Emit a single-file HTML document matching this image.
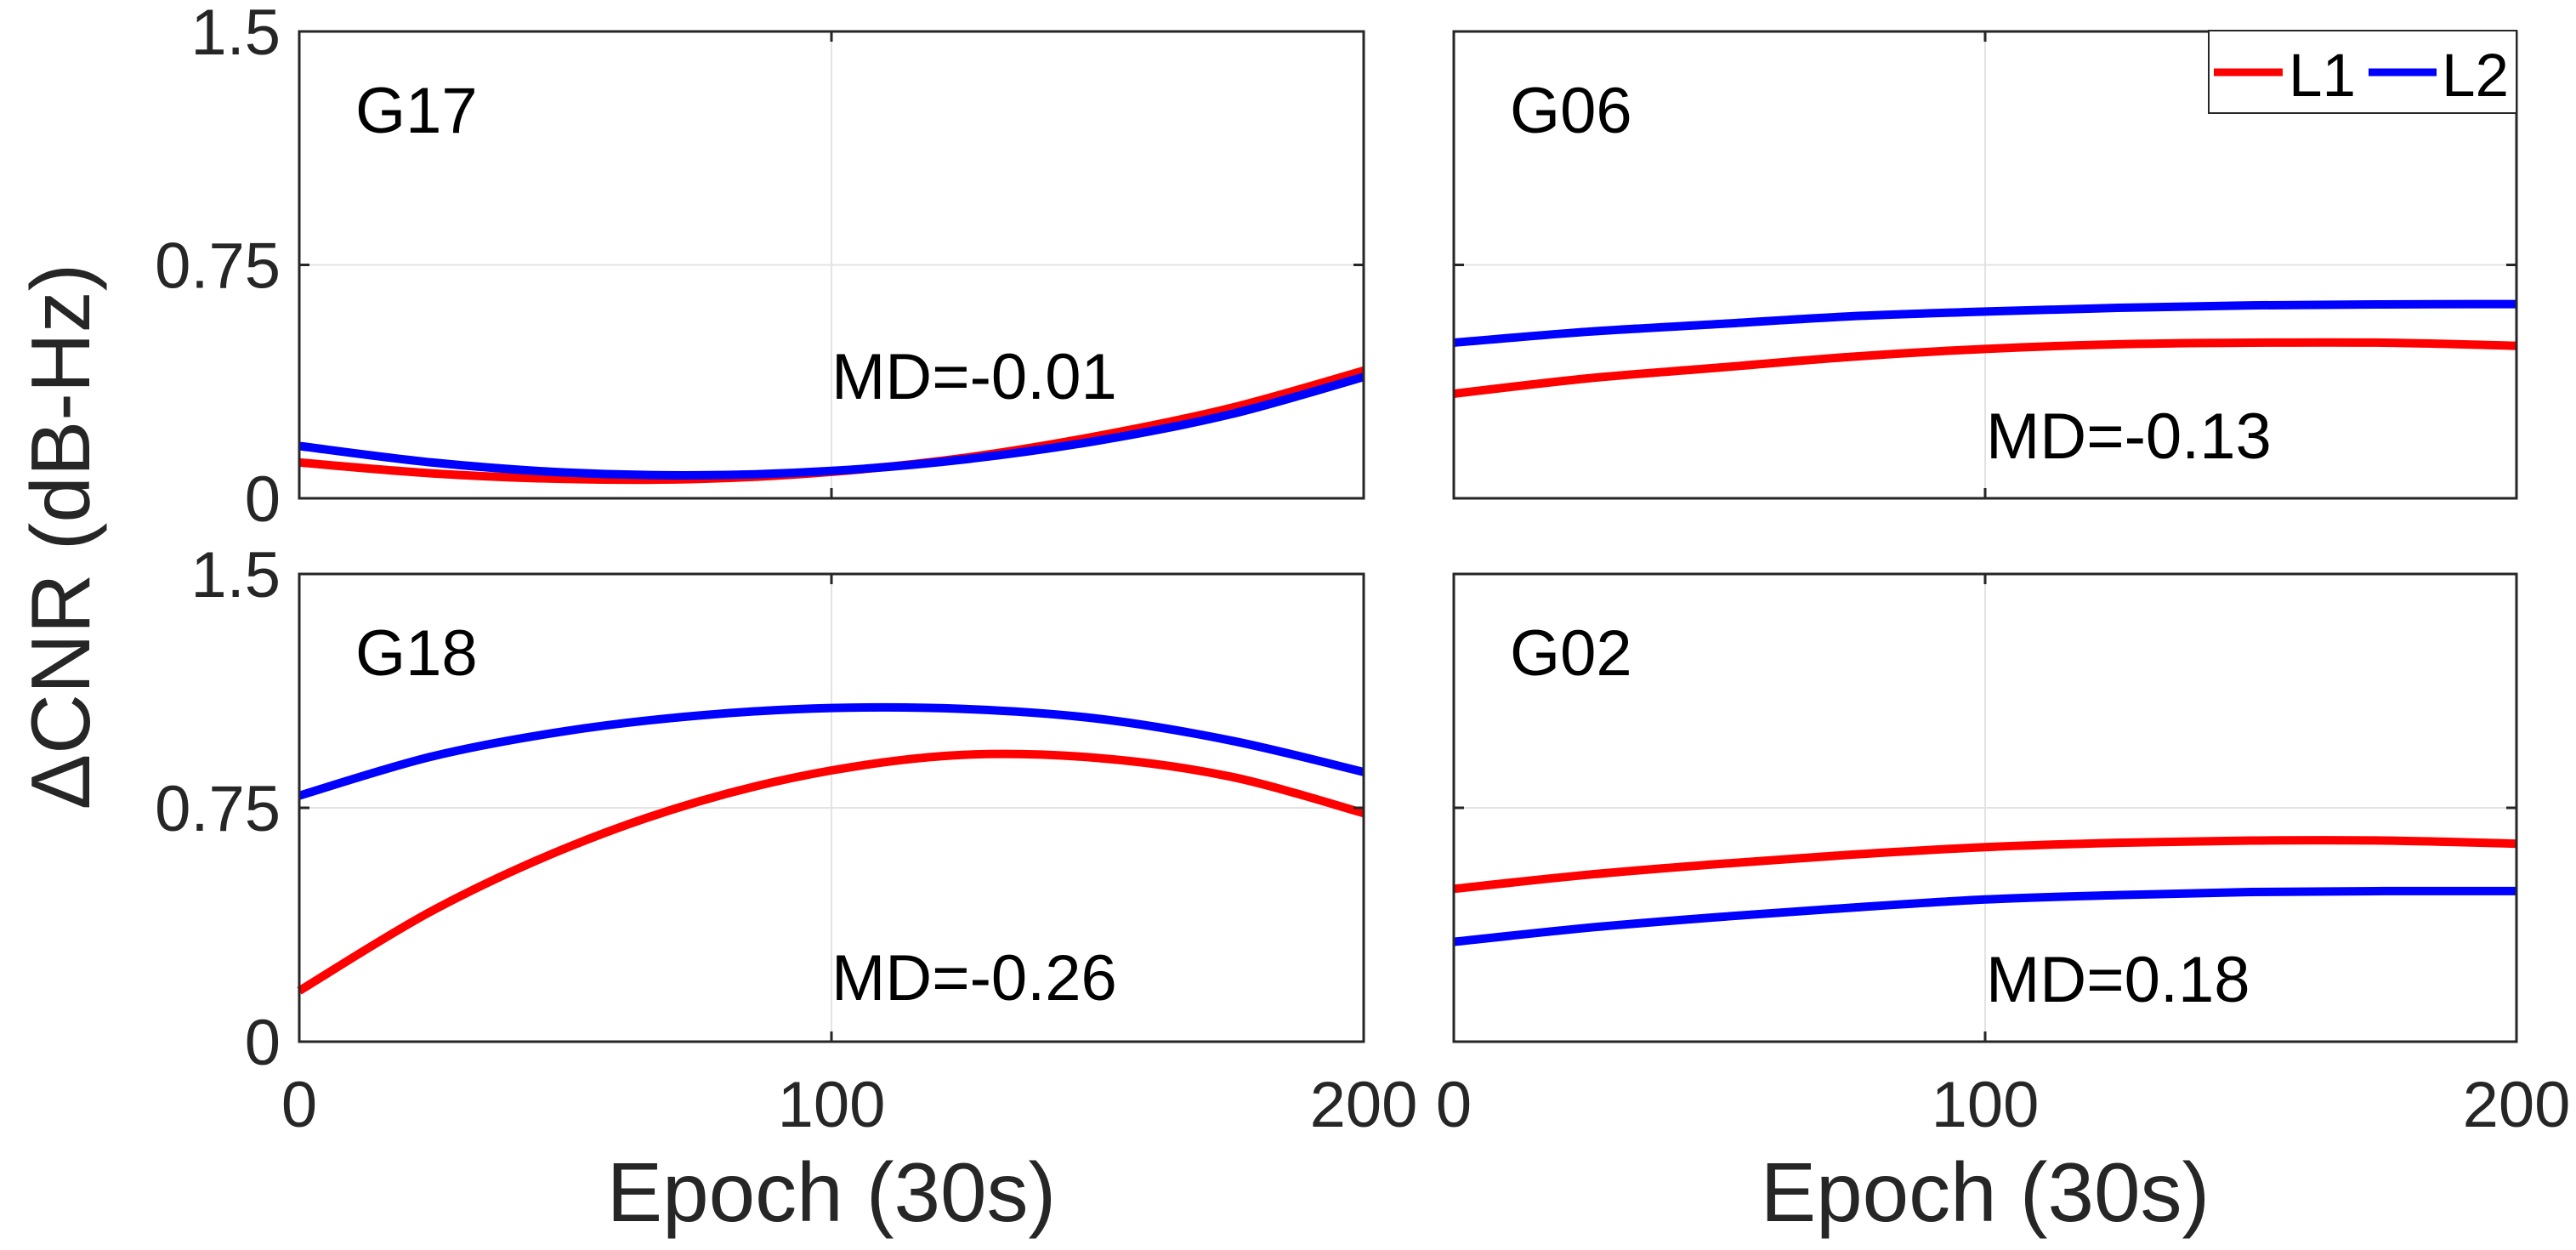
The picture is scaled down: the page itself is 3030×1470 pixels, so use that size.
<!DOCTYPE html>
<html><head><meta charset="utf-8"><style>
body{margin:0;background:#fff}
svg{display:block}
text{font-family:"Liberation Sans",sans-serif}
</style></head><body>
<svg id="chart" width="3030" height="1470" viewBox="0 0 3030 1470"></svg>
<script>
const epochs=[0,25,50,75,100,125,150,175,200];
const g17L1=[0.115,0.08,0.062,0.062,0.085,0.13,0.2,0.29,0.41];
const g17L2=[0.168,0.115,0.083,0.074,0.088,0.125,0.185,0.27,0.39];
const g06L1=[0.336,0.385,0.42,0.455,0.48,0.495,0.50,0.50,0.49];
const g06L2=[0.50,0.535,0.56,0.585,0.60,0.612,0.62,0.623,0.624];
const g18L1=[0.163,0.42,0.62,0.77,0.87,0.92,0.91,0.85,0.733];
const g18L2=[0.789,0.915,0.996,1.046,1.07,1.067,1.036,0.966,0.865];
const g02L1=[0.49,0.535,0.57,0.60,0.624,0.638,0.645,0.645,0.635];
const g02L2=[0.32,0.365,0.40,0.43,0.456,0.47,0.48,0.483,0.483];
const yTicks=[0,0.75,1.5];
const yTickLabels=["0","0.75","1.5"];
const xTicks=[0,100,200];
const xTickLabels=["0","100","200"];
const panelNames=["G17","G06","G18","G02"];
const mdLabels=["MD=-0.01","MD=-0.13","MD=-0.26","MD=0.18"];
const seriesL1=[g17L1,g06L1,g18L1,g02L1];
const seriesL2=[g17L2,g06L2,g18L2,g02L2];

const NS="http://www.w3.org/2000/svg";
const svg=document.getElementById('chart');
function mk(tag,attrs,parent){const e=document.createElementNS(NS,tag);for(const k in attrs)e.setAttribute(k,attrs[k]);(parent||svg).appendChild(e);return e;}

const panels=[
 {x0:352,x1:1604,y0:37,y1:586,left:true,bottom:false,mdX:978,mdY:469},
 {x0:1710,x1:2960,y0:37,y1:586,left:false,bottom:false,mdX:2336,mdY:539},
 {x0:352,x1:1604,y0:675,y1:1225,left:true,bottom:true,mdX:978,mdY:1176},
 {x0:1710,x1:2960,y0:675,y1:1225,left:false,bottom:true,mdX:2336,mdY:1178}
];

function smoothPath(pts){
 let d=`M${pts[0][0]},${pts[0][1]}`;
 for(let i=0;i<pts.length-1;i++){
  const p0=pts[i-1]||pts[i],p1=pts[i],p2=pts[i+1],p3=pts[i+2]||p2;
  const c1=[p1[0]+(p2[0]-p0[0])/6,p1[1]+(p2[1]-p0[1])/6];
  const c2=[p2[0]-(p3[0]-p1[0])/6,p2[1]-(p3[1]-p1[1])/6];
  d+=` C${c1[0]},${c1[1]} ${c2[0]},${c2[1]} ${p2[0]},${p2[1]}`;
 }
 return d;
}

panels.forEach((p,i)=>{
 const g=mk('g',{});
 
 
 const sx=v=>p.x0+(v-0)/(200-0)*(p.x1-p.x0);
 const sy=v=>p.y1-(v-0)/(1.5-0)*(p.y1-p.y0);
 const gx=mk('line',{x1:sx(100),x2:sx(100),y1:p.y0,y2:p.y1,stroke:'#e3e3e3','stroke-width':2},g);
 
 
 const gy=mk('line',{x1:p.x0,x2:p.x1,y1:sy(0.75),y2:sy(0.75),stroke:'#e3e3e3','stroke-width':2},g);
 
 
 [[seriesL1[i],'#ff0000','l1'],[seriesL2[i],'#0000ff','l2']].forEach(([arr,col,nm])=>{
  const pts=epochs.map((e,k)=>[sx(e),sy(arr[k])]);
  const path=mk('path',{d:smoothPath(pts),fill:'none',stroke:col,'stroke-width':10},g);
  
  
 });
 const box=mk('rect',{x:p.x0,y:p.y0,width:p.x1-p.x0,height:p.y1-p.y0,fill:'none',stroke:'#262626','stroke-width':3},g);
 
 
 yTicks.forEach((t,k)=>{
  mk('line',{x1:p.x0,x2:p.x0+12,y1:sy(t),y2:sy(t),stroke:'#262626','stroke-width':3},g);
  mk('line',{x1:p.x1,x2:p.x1-12,y1:sy(t),y2:sy(t),stroke:'#262626','stroke-width':3},g);
  if(p.left){
   const tl=mk('text',{x:p.x0-22,y:sy(t)+27,'text-anchor':'end','font-size':76,fill:'#262626'},g);
   tl.textContent=yTickLabels[k];
   
   
  }
 });
 xTicks.forEach((t,k)=>{
  mk('line',{x1:sx(t),x2:sx(t),y1:p.y1,y2:p.y1-12,stroke:'#262626','stroke-width':3},g);
  mk('line',{x1:sx(t),x2:sx(t),y1:p.y0,y2:p.y0+12,stroke:'#262626','stroke-width':3},g);
  if(p.bottom){
   const tl=mk('text',{x:sx(t),y:1325,'text-anchor':'middle','font-size':76,fill:'#262626'},g);
   tl.textContent=xTickLabels[k];
   
   
  }
 });
 const nl=mk('text',{x:p.x0+66,y:p.y0+119,'font-size':76,fill:'#000'},g);
 nl.textContent=panelNames[i];
 
 
 const md=mk('text',{x:p.mdX,y:p.mdY,'font-size':76,fill:'#000'},g);
 md.textContent=mdLabels[i];
 
 
 if(p.bottom){
  const xl=mk('text',{x:(p.x0+p.x1)/2,y:1436,'text-anchor':'middle','font-size':98,fill:'#262626'},g);
  xl.textContent='Epoch (30s)';
  
  
 }
});

const yl=mk('text',{x:0,y:0,'text-anchor':'middle','font-size':98,fill:'#262626',transform:'translate(105,631) rotate(-90)'});
yl.textContent='ΔCNR (dB-Hz)';



const lg=mk('g',{});


mk('rect',{x:2598,y:36,width:362,height:97,fill:'#fff',stroke:'#262626','stroke-width':2},lg);
mk('line',{x1:2604,x2:2685,y1:85,y2:85,stroke:'#ff0000','stroke-width':9},lg);
const t1=mk('text',{x:2692,y:113,'font-size':71,fill:'#000'},lg);
t1.textContent='L1';


mk('line',{x1:2786,x2:2866,y1:85,y2:85,stroke:'#0000ff','stroke-width':9},lg);
const t2=mk('text',{x:2872,y:113,'font-size':71,fill:'#000'},lg);
t2.textContent='L2';


</script>
</body></html>
